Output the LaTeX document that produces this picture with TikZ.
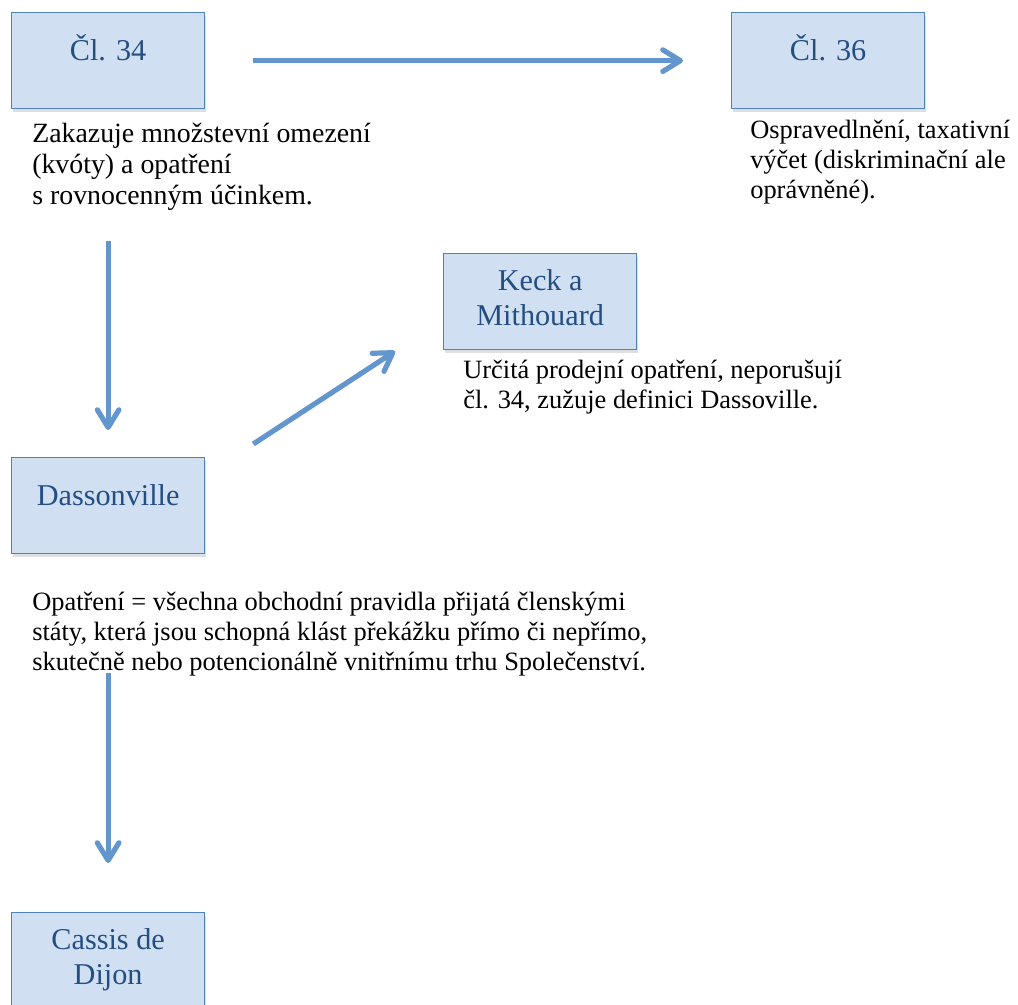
\documentclass[tikz,border=0pt]{standalone}
\usepackage{fontspec}
\setmainfont{Liberation Serif}
\usetikzlibrary{arrows.meta,positioning,shadows}
\usepackage{xcolor}
\definecolor{boxfill}{RGB}{208,224,242}
\definecolor{boxline}{RGB}{79,129,189}
\definecolor{boxtext}{RGB}{36,78,130}
\definecolor{linkblue}{RGB}{98,150,204}

\begin{document}
\begin{tikzpicture}[
    x=0.25mm, y=-0.25mm,
    box/.style={draw=boxline, line width=0.9pt, fill=boxfill, anchor=north west, minimum width=48.25mm, inner sep=0pt, align=center, text=boxtext, font=\fontsize{21.5pt}{24.5pt}\selectfont, drop shadow={shadow xshift=0.3mm, shadow yshift=-0.9mm, opacity=0.25}},
    onebox/.style={box, text height=12mm, text depth=12mm},
    twobox/.style={box, text height=17.9mm, text depth=6.1mm},
    note/.style={anchor=base west, align=left, inner sep=0pt, font=\fontsize{18.8pt}{21pt}\selectfont},
    link/.style={draw=linkblue, line width=3.7pt, -{Straight Barb[round, length=4.4mm, width=5.4mm]}}
]
\useasboundingbox (0,0) rectangle (1018,1004);

\node[onebox] (c34) at (11,12) {Čl. 34};
\node[onebox] (c36) at (731,12) {Čl. 36};
\node[twobox] (keck) at (443,253) {Keck a\\Mithouard};
\node[onebox] (dass) at (11,457) {Dassonville};
\node[twobox] (cassis) at (11,912) {Cassis de\\Dijon};

% notes are anchored at the baseline of their last line
\node[note, font=\fontsize{19.8pt}{22pt}\selectfont] (n34) at (32,204) {Zakazuje množstevní omezení\\(kvóty) a opatření\\s rovnocenným účinkem.};
\node[note] (n36) at (750,198) {Ospravedlnění, taxativní\\výčet (diskriminační ale\\oprávněné).};
\node[note] (nkeck) at (463,408) {Určitá prodejní opatření, neporušují\\čl. 34, zužuje definici Dassoville.};
\node[note] (ndass) at (32,670) {Opatření = všechna obchodní pravidla přijatá členskými\\státy, která jsou schopná klást překážku přímo či nepřímo,\\skutečně nebo potencionálně vnitřnímu trhu Společenství.};

\draw[link, shorten <=12mm, shorten >=12mm] (c34) -- (c36);
\draw[link, shorten <=33mm, shorten >=6.75mm] (c34) -- (dass);
\draw[link] ([shift={(48,-13)}]dass.north east) -- ([shift={(-48,1)}]keck.south west);
\draw[link, shorten <=29.75mm, shorten >=12.25mm] (dass) -- (cassis);
\end{tikzpicture}
\end{document}
